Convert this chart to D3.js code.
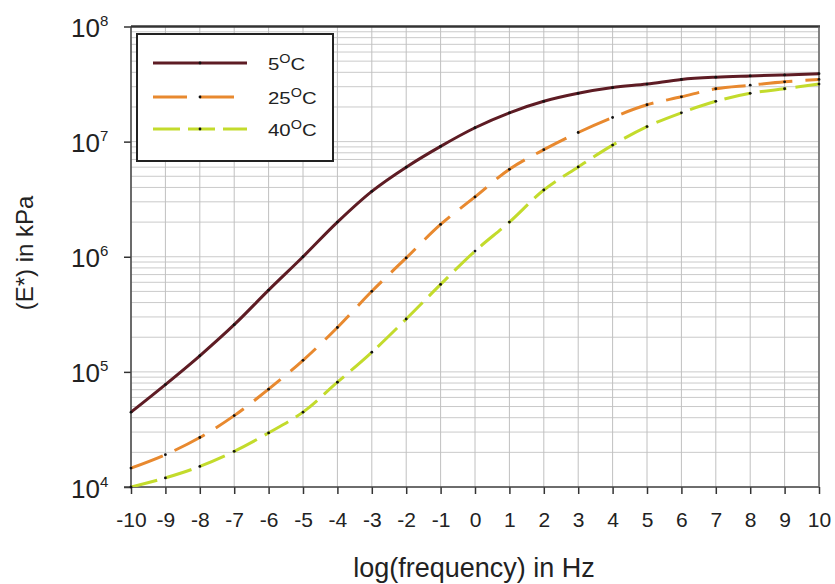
<!DOCTYPE html>
<html><head><meta charset="utf-8">
<script src="https://cdn.jsdelivr.net/npm/d3@7"></script>
<style>body{margin:0;background:#fff}svg{display:block;font-family:"Liberation Sans",Arial,sans-serif}</style>
</head><body><svg id="c" width="835" height="584"></svg>
<script>
const logFreq = [-10,-9,-8,-7,-6,-5,-4,-3,-2,-1,0,1,2,3,4,5,6,7,8,9,10];
const series5 = [44700,77600,138000,257000,513000,1000000,2000000,3700000,6000000,9100000,13200000,17800000,22400000,26300000,29500000,31600000,34700000,36300000,37200000,38000000,38900000];
const series25 = [14600,19100,26900,41700,70800,126000,243000,501000,977000,1910000,3310000,5750000,8510000,12000000,16200000,20900000,24500000,28800000,30900000,33100000,34700000];
const series40 = [10000,12000,15100,20400,29500,44700,81300,148000,288000,575000,1120000,2000000,3800000,6030000,9330000,13500000,17800000,22400000,26300000,28800000,31600000];
const seriesNames = ["5","25","40"];
const yTickExps = [4,5,6,7,8];

const svg = d3.select("#c");
const L=131,R=819,T=26.5,B=487;
const x = d3.scaleLinear().domain([-10,10]).range([L,R]);
const y = d3.scaleLog().domain([1e4,1e8]).range([B,T]);

// grid
const g = svg.append("g");
const minor = [];
for (let e=4;e<8;e++) for (let m=1;m<=9;m++) minor.push(m*Math.pow(10,e));
minor.push(1e8);
g.selectAll(".hg").data(minor).enter().append("line")
 .attr("x1",L).attr("x2",R).attr("y1",d=>y(d)).attr("y2",d=>y(d))
 .attr("stroke","#cacaca").attr("stroke-width",1);
g.selectAll(".vg").data(logFreq).enter().append("line")
 .attr("y1",T).attr("y2",B).attr("x1",d=>x(d)).attr("x2",d=>x(d))
 .attr("stroke","#c0c0c0").attr("stroke-width",1);

// axes
const xAxis = d3.axisBottom(x).tickValues(logFreq).tickSize(7).tickFormat(d3.format("d"));
const xg = svg.append("g").attr("transform",`translate(0,${B})`).call(xAxis);
xg.select(".domain").remove();
xg.selectAll(".tick line").attr("stroke","#333").attr("stroke-width",1.5);
xg.selectAll(".tick text").attr("font-size",21).attr("fill","#222").attr("y",40).attr("dy",0)
  .attr("font-family","Liberation Sans, Arial, sans-serif")
  .text(d=> d<0 ? "-"+Math.abs(d) : d);

const yAxis = d3.axisLeft(y).tickValues(yTickExps.map(e=>Math.pow(10,e))).tickSize(7).tickFormat("");
const yg = svg.append("g").attr("transform",`translate(${L},0)`).call(yAxis);
yg.select(".domain").remove();
yg.selectAll(".tick line").attr("stroke","#333").attr("stroke-width",1.5);
yg.selectAll(".tick").each(function(d,i){
  d3.select(this).append("text").attr("x",-31).attr("y",10).attr("text-anchor","end")
    .attr("fill","#222").attr("font-size",26).attr("font-family","Liberation Sans, Arial, sans-serif")
    .text("10");
  d3.select(this).append("text").attr("x",-31).attr("y",-1).attr("text-anchor","start")
    .attr("fill","#222").attr("font-size",15).attr("font-family","Liberation Sans, Arial, sans-serif")
    .text(yTickExps[i]);
});

// frame
svg.append("line").attr("x1",L).attr("x2",L).attr("y1",T).attr("y2",B).attr("stroke","#444").attr("stroke-width",1.5);
svg.append("line").attr("x1",L-7).attr("x2",R).attr("y1",B).attr("y2",B).attr("stroke","#444").attr("stroke-width",1.5);
svg.append("line").attr("x1",L).attr("x2",R+1).attr("y1",T).attr("y2",T).attr("stroke","#333").attr("stroke-width",2.5);
svg.append("line").attr("x1",R).attr("x2",R).attr("y1",T).attr("y2",B).attr("stroke","#666").attr("stroke-width",1.5);

// lines
const colors = ["#5e1c24","#e8892f","#c3db2c"];
const dashes = [null,"34,13","27,9"];
const all = [series5,series25,series40];
const line = d3.line().x((d,i)=>x(logFreq[i])).y(d=>y(d)).curve(d3.curveCatmullRom.alpha(0.5));
svg.append("clipPath").attr("id","cp").append("rect").attr("x",L).attr("y",T-3).attr("width",R-L+3).attr("height",B-T+3);
all.forEach((s,k)=>{
  const p = svg.append("path").datum(s).attr("d",line).attr("fill","none")
    .attr("stroke",colors[k]).attr("stroke-width",3).attr("stroke-linecap","butt")
    .attr("clip-path","url(#cp)");
  if (dashes[k]) p.attr("stroke-dasharray",dashes[k]);
});
all.forEach((s,k)=>{
  svg.selectAll(".m"+k).data(s).enter().append("circle")
   .attr("cx",(d,i)=>x(logFreq[i])).attr("cy",d=>y(d)).attr("r",1.4).attr("fill","#111");
});

// legend
const lg = svg.append("g");
lg.append("rect").attr("x",137).attr("y",34).attr("width",196).attr("height",127)
  .attr("fill","#fff").attr("stroke","#222").attr("stroke-width",2);
const ly = [63,97,129];
seriesNames.forEach((n,k)=>{
  const l = lg.append("line").attr("x1",153).attr("x2",247).attr("y1",ly[k]).attr("y2",ly[k])
    .attr("stroke",colors[k]).attr("stroke-width",3);
  if (k===1) l.attr("stroke-dasharray","34,13,34,20");
  if (k===2) l.attr("stroke-dasharray","27,8");
  lg.append("circle").attr("cx",200).attr("cy",ly[k]).attr("r",1.4).attr("fill","#111");
  const t = lg.append("text").attr("transform",`translate(268,${ly[k]+7}) scale(1.2,1)`)
    .attr("font-size",17).attr("fill","#222");
  t.append("tspan").text(n);
  t.append("tspan").attr("dy",-7).attr("font-size",12).text("O");
  t.append("tspan").attr("dy",7).text("C");
});

// titles
svg.append("text").attr("x",474).attr("y",577).attr("text-anchor","middle").attr("font-size",27).attr("fill","#222")
  .text("log(frequency) in Hz");
svg.append("text").attr("transform","translate(33,253) rotate(-90)").attr("text-anchor","middle").attr("font-size",24).attr("fill","#222")
  .text("(E*) in kPa");
</script></body></html>
